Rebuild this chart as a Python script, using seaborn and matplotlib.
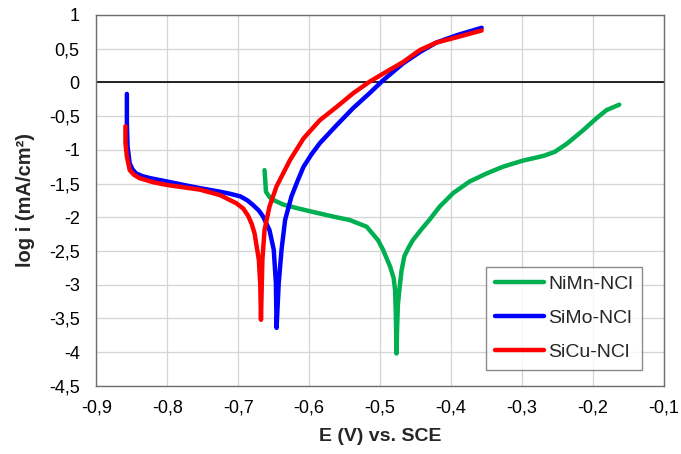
import pandas as pd
import seaborn as sns
import matplotlib
matplotlib.use('Agg')
import matplotlib.pyplot as plt

# polarisation curves (E in V vs SCE, log i)
nimn_e = [-0.663, -0.662, -0.661, -0.656, -0.651, -0.637, -0.615, -0.599, -0.566, -0.543,
          -0.519, -0.503, -0.496, -0.486, -0.481, -0.479, -0.478, -0.477, -0.476, -0.475,
          -0.473, -0.470, -0.466, -0.460, -0.454, -0.442, -0.430, -0.416, -0.397, -0.374,
          -0.350, -0.327, -0.299, -0.270, -0.254, -0.237, -0.214, -0.195, -0.181, -0.163]
nimn_i = [-1.30, -1.45, -1.62, -1.70, -1.74, -1.81, -1.87, -1.91, -1.99, -2.04,
          -2.14, -2.34, -2.48, -2.73, -2.90, -3.08, -3.40, -4.02, -3.60, -3.30,
          -3.08, -2.80, -2.58, -2.45, -2.34, -2.18, -2.03, -1.84, -1.64, -1.47,
          -1.35, -1.25, -1.16, -1.09, -1.03, -0.91, -0.71, -0.53, -0.41, -0.33]

simo_e = [-0.857, -0.857, -0.856, -0.853, -0.849, -0.844, -0.835, -0.824, -0.800, -0.777,
          -0.753, -0.726, -0.712, -0.697, -0.687, -0.679, -0.671, -0.665, -0.656, -0.650,
          -0.647, -0.646, -0.643, -0.639, -0.634, -0.625, -0.616, -0.608, -0.597, -0.585,
          -0.561, -0.538, -0.515, -0.496, -0.468, -0.444, -0.421, -0.392, -0.357]
simo_i = [-0.17, -0.60, -0.95, -1.20, -1.29, -1.35, -1.39, -1.42, -1.47, -1.52,
          -1.57, -1.62, -1.65, -1.69, -1.75, -1.82, -1.90, -1.99, -2.19, -2.48,
          -2.97, -3.64, -2.98, -2.48, -2.04, -1.69, -1.45, -1.25, -1.07, -0.90,
          -0.63, -0.38, -0.16, 0.03, 0.28, 0.45, 0.59, 0.70, 0.81]

sicu_e = [-0.859, -0.859, -0.857, -0.853, -0.847, -0.839, -0.820, -0.801, -0.754, -0.726,
          -0.703, -0.693, -0.686, -0.681, -0.677, -0.671, -0.669, -0.668, -0.666, -0.663,
          -0.656, -0.646, -0.627, -0.608, -0.585, -0.561, -0.538, -0.515, -0.491, -0.468,
          -0.444, -0.421, -0.392, -0.357]
sicu_i = [-0.65, -0.90, -1.10, -1.30, -1.37, -1.42, -1.48, -1.52, -1.59, -1.67,
          -1.79, -1.87, -1.98, -2.10, -2.24, -2.63, -3.00, -3.52, -2.63, -2.19,
          -1.84, -1.54, -1.15, -0.83, -0.56, -0.36, -0.16, 0.01, 0.16, 0.30,
          0.48, 0.59, 0.67, 0.77]

names = ['NiMn-NCl', 'SiMo-NCl', 'SiCu-NCl']
colors = ['#00B050', '#0000FF', '#FF0000']

x_ticks = [-0.9, -0.8, -0.7, -0.6, -0.5, -0.4, -0.3, -0.2, -0.1]
x_labels = ['-0,9', '-0,8', '-0,7', '-0,6', '-0,5', '-0,4', '-0,3', '-0,2', '-0,1']
y_ticks = [-4.5, -4, -3.5, -3, -2.5, -2, -1.5, -1, -0.5, 0, 0.5, 1]
y_labels = ['-4,5', '-4', '-3,5', '-3', '-2,5', '-2', '-1,5', '-1', '-0,5', '0', '0,5', '1']

frames = []
for n, e, i in zip(names, [nimn_e, simo_e, sicu_e], [nimn_i, simo_i, sicu_i]):
    frames.append(pd.DataFrame({'E': e, 'logi': i, 'alloy': n}))
df = pd.concat(frames, ignore_index=True)

sns.set_style('white')
plt.rcParams['font.family'] = ['Liberation Sans', 'DejaVu Sans']

fig = plt.figure(figsize=(6.81, 4.54), dpi=100)
ax = fig.add_axes([0.1415, 0.150, 0.8335, 0.817])

ax.set_xlim(-0.9, -0.1)
ax.set_ylim(-4.5, 1)
ax.set_xticks(x_ticks)
ax.set_xticklabels(x_labels)
ax.set_yticks(y_ticks)
ax.set_yticklabels(y_labels)
ax.grid(True, color='#d4d4d4', linewidth=0.9)
ax.set_axisbelow(True)
ax.axhline(0, color='black', linewidth=1.2, zorder=1.5)

sns.lineplot(data=df, x='E', y='logi', hue='alloy', hue_order=names,
             palette=colors, sort=False, estimator=None, linewidth=3.2,
             solid_capstyle='round', solid_joinstyle='round', ax=ax, zorder=3)

for s in ax.spines.values():
    s.set_color('#6e6e6e')
    s.set_linewidth(1.0)
ax.tick_params(axis='both', length=0, labelsize=13, colors='black')
ax.tick_params(axis='x', pad=10)
ax.tick_params(axis='y', pad=12)

ax.set_xlabel('E (V) vs. SCE', fontsize=14, fontweight='bold', labelpad=8)
ax.set_ylabel('log i (mA/cm²)', fontsize=14.5, fontweight='bold', labelpad=10)

leg = ax.legend(loc='lower right', bbox_to_anchor=(0.961, 0.043), borderaxespad=0,
                fontsize=14, frameon=True, fancybox=False, handlelength=2.5,
                handletextpad=0.25, labelspacing=0.85, borderpad=0.45,
                edgecolor='#6e6e6e')
leg.get_frame().set_linewidth(1.0)
for line in leg.get_lines():
    line.set_linewidth(3.2)

fig.savefig('out.png', dpi=100)
